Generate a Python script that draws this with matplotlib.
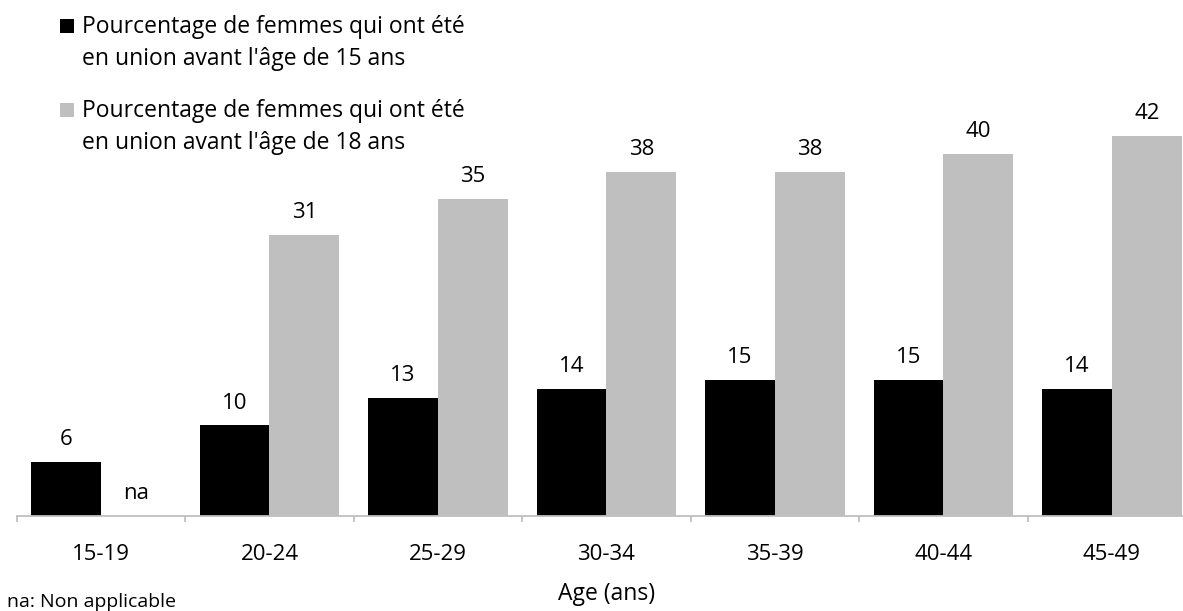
import numpy as np
import matplotlib
matplotlib.use("Agg")
import matplotlib.pyplot as plt
from matplotlib.patches import Rectangle

categories = ["15-19", "20-24", "25-29", "30-34", "35-39", "40-44", "45-49"]
avant_15 = [6, 10, 13, 14, 15, 15, 14]
avant_18 = [np.nan, 31, 35, 38, 38, 40, 42]
labels_15 = ["6", "10", "13", "14", "15", "15", "14"]
labels_18 = ["na", "31", "35", "38", "38", "40", "42"]
legend_labels = [
    ["Pourcentage de femmes qui ont été", "en union avant l'âge de 15 ans"],
    ["Pourcentage de femmes qui ont été", "en union avant l'âge de 18 ans"],
]
series_colors = ["#000000", "#bfbfbf"]
x_title = "Age (ans)"
note = "na: Non applicable"

plt.rcParams['font.family'] = ['Open Sans', 'DejaVu Sans']
FS = 16.5

W, H = 1183, 611
fig = plt.figure(figsize=(W / 100, H / 100), dpi=100)
ax_left, ax_right = 16.7, 1196.2
ax_bottom_px, ax_top_px = 516, 0
ax = fig.add_axes([ax_left / W, (H - ax_bottom_px) / H,
                   (ax_right - ax_left) / W, (ax_bottom_px - ax_top_px) / H])

x = np.arange(len(categories))
bw = 0.415
b1 = ax.bar(x - bw / 2, avant_15, bw, color=series_colors[0])
b2 = ax.bar(x + bw / 2, np.nan_to_num(avant_18, nan=0.0), bw, color=series_colors[1])

ax.set_xlim(-0.5, len(categories) - 0.5)
ax.set_ylim(0, 57.0)

for xi, v, lab in zip(x - bw / 2, avant_15, labels_15):
    ax.annotate(lab, (xi, v), xytext=(0, 12.2), textcoords="offset points",
                ha="center", va="baseline", fontsize=16, color="#000000")
for xi, v, lab in zip(x + bw / 2, avant_18, labels_18):
    vv = 0 if np.isnan(v) else v
    ax.annotate(lab, (xi, vv), xytext=(0, 12.2), textcoords="offset points",
                ha="center", va="baseline", fontsize=16, color="#000000")

for s in ["top", "right", "left"]:
    ax.spines[s].set_visible(False)
ax.spines["bottom"].set_color("#bfbfbf")
ax.spines["bottom"].set_linewidth(1.3)
ax.set_yticks([])
ax.set_xticks(x)
ax.set_xticklabels(categories, fontsize=16)
ax.tick_params(axis="x", which="major", length=0, pad=32)
for lbl in ax.get_xticklabels():
    lbl.set_va("baseline")
ax.set_xticks(np.arange(-0.5, len(categories), 1.0), minor=True)
ax.tick_params(axis="x", which="minor", length=4.5, width=1.3, color="#bfbfbf")

ax.set_xlabel(x_title, fontsize=16.5)
ax.xaxis.label.set_va("center")
ax.xaxis.set_label_coords(0.5, -(594 - 516) / 516)

fig.text(7 / W, 1 - 602 / H, note, ha="left", va="center", fontsize=14)

# legend (two entries, two lines each)
entry_tops = [19, 103]
line_gap = 32
for top, lines, col in zip(entry_tops, legend_labels, series_colors):
    fig.add_artist(Rectangle((60 / W, 1 - (top + 14) / H), 14 / W, 14 / H,
                             transform=fig.transFigure, facecolor=col,
                             edgecolor="none"))
    for k, line in enumerate(lines):
        fig.text(82 / W, 1 - (top + 14 + k * line_gap) / H, line,
                 ha="left", va="baseline", fontsize=FS)

fig.savefig("out.png", dpi=100)
